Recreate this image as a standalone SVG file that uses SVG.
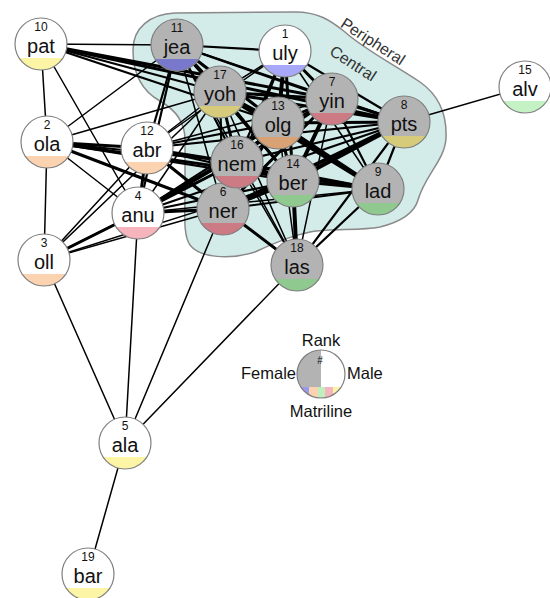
<svg xmlns="http://www.w3.org/2000/svg" xmlns:xlink="http://www.w3.org/1999/xlink" width="550" height="598" viewBox="0 0 550 598">
<style>
text{font-family:"Liberation Sans",Arial,sans-serif;fill:#111}
.num{font-size:12px;text-anchor:middle}
.name{font-size:20px;text-anchor:middle}
.lg{font-size:16.5px}
.hl{font-size:16px;fill:#333;text-anchor:middle}
.edges line{stroke:#000;stroke-linecap:round}
.a{stroke-width:1.5}.b{stroke-width:2.2}.c{stroke-width:3}.d{stroke-width:4}
.m .bg{fill:#fff}.f .bg{fill:#b3b3b3}
.ol{fill:none;stroke:#7f7f7f;stroke-width:1.2}
</style>
<defs>
<path id="band" d="M-21.9,14 A26,26 0 0 0 21.9,14 Z"/>
<clipPath id="lgclip"><circle cx="321" cy="374" r="24"/></clipPath>
</defs>
<rect width="550" height="598" fill="#fff"/>
<path id="hull" d="M133,50 C133,28 150,14 175,13 L295,12 C318,12 330,20 345,32 C365,50 395,65 420,82 C440,96 447,115 446,138 C445,160 425,175 418,200 C414,214 400,222 380,227 C360,231 330,228 310,232 C290,236 275,243 255,252 C230,260 200,258 190,245 C183,235 185,215 185,190 L185,140 C185,122 176,110 160,101 C140,90 133,72 133,50 Z" fill="#d3ecea" stroke="#8a8a8a" stroke-width="1.5"/>
<text class="hl" transform="translate(370,46) rotate(33)">Peripheral</text>
<text class="hl" transform="translate(350,68) rotate(33)">Central</text>
<g class="edges">
<line class="a" x1="41" y1="44" x2="177" y2="45"/>
<line class="a" x1="41" y1="44" x2="47" y2="142"/>
<line class="a" x1="41" y1="44" x2="138" y2="213"/>
<line class="b" x1="41" y1="44" x2="220" y2="92"/>
<line class="b" x1="41" y1="44" x2="278" y2="123"/>
<line class="c" x1="41" y1="44" x2="332" y2="99"/>
<line class="c" x1="41" y1="44" x2="404" y2="122"/>
<line class="a" x1="47" y1="142" x2="44" y2="260"/>
<line class="a" x1="47" y1="142" x2="177" y2="45"/>
<line class="a" x1="47" y1="142" x2="220" y2="92"/>
<line class="c" x1="47" y1="142" x2="147" y2="148"/>
<line class="a" x1="47" y1="142" x2="138" y2="213"/>
<line class="b" x1="47" y1="142" x2="237" y2="162"/>
<line class="c" x1="47" y1="142" x2="223" y2="209"/>
<line class="b" x1="47" y1="142" x2="293" y2="181"/>
<line class="c" x1="47" y1="142" x2="378" y2="189"/>
<line class="c" x1="44" y1="260" x2="138" y2="213"/>
<line class="a" x1="44" y1="260" x2="147" y2="148"/>
<line class="a" x1="44" y1="260" x2="237" y2="162"/>
<line class="a" x1="44" y1="260" x2="223" y2="209"/>
<line class="a" x1="44" y1="260" x2="220" y2="92"/>
<line class="a" x1="44" y1="260" x2="293" y2="181"/>
<line class="a" x1="44" y1="260" x2="125" y2="443"/>
<line class="a" x1="138" y1="213" x2="125" y2="443"/>
<line class="a" x1="223" y1="209" x2="125" y2="443"/>
<line class="a" x1="297" y1="265" x2="125" y2="443"/>
<line class="a" x1="125" y1="443" x2="88" y2="574"/>
<line class="a" x1="404" y1="122" x2="525" y2="87"/>
<line class="b" x1="147" y1="148" x2="177" y2="45"/>
<line class="c" x1="147" y1="148" x2="138" y2="213"/>
<line class="a" x1="147" y1="148" x2="220" y2="92"/>
<line class="a" x1="147" y1="148" x2="285" y2="51"/>
<line class="b" x1="147" y1="148" x2="278" y2="123"/>
<line class="a" x1="147" y1="148" x2="332" y2="99"/>
<line class="b" x1="147" y1="148" x2="404" y2="122"/>
<line class="b" x1="147" y1="148" x2="237" y2="162"/>
<line class="c" x1="147" y1="148" x2="223" y2="209"/>
<line class="b" x1="147" y1="148" x2="293" y2="181"/>
<line class="b" x1="147" y1="148" x2="378" y2="189"/>
<line class="b" x1="138" y1="213" x2="177" y2="45"/>
<line class="a" x1="138" y1="213" x2="220" y2="92"/>
<line class="b" x1="138" y1="213" x2="278" y2="123"/>
<line class="d" x1="138" y1="213" x2="332" y2="99"/>
<line class="b" x1="138" y1="213" x2="404" y2="122"/>
<line class="c" x1="138" y1="213" x2="237" y2="162"/>
<line class="c" x1="138" y1="213" x2="223" y2="209"/>
<line class="b" x1="138" y1="213" x2="293" y2="181"/>
<line class="a" x1="138" y1="213" x2="378" y2="189"/>
<line class="b" x1="177" y1="45" x2="285" y2="51"/>
<line class="d" x1="177" y1="45" x2="220" y2="92"/>
<line class="c" x1="177" y1="45" x2="278" y2="123"/>
<line class="b" x1="177" y1="45" x2="332" y2="99"/>
<line class="b" x1="177" y1="45" x2="404" y2="122"/>
<line class="b" x1="177" y1="45" x2="237" y2="162"/>
<line class="a" x1="177" y1="45" x2="223" y2="209"/>
<line class="a" x1="177" y1="45" x2="297" y2="265"/>
<line class="a" x1="177" y1="45" x2="293" y2="181"/>
<line class="a" x1="285" y1="51" x2="220" y2="92"/>
<line class="d" x1="285" y1="51" x2="278" y2="123"/>
<line class="c" x1="285" y1="51" x2="332" y2="99"/>
<line class="b" x1="285" y1="51" x2="404" y2="122"/>
<line class="b" x1="285" y1="51" x2="237" y2="162"/>
<line class="c" x1="285" y1="51" x2="293" y2="181"/>
<line class="a" x1="285" y1="51" x2="378" y2="189"/>
<line class="b" x1="285" y1="51" x2="223" y2="209"/>
<line class="d" x1="220" y1="92" x2="278" y2="123"/>
<line class="c" x1="220" y1="92" x2="332" y2="99"/>
<line class="c" x1="220" y1="92" x2="404" y2="122"/>
<line class="c" x1="220" y1="92" x2="237" y2="162"/>
<line class="b" x1="220" y1="92" x2="223" y2="209"/>
<line class="c" x1="220" y1="92" x2="293" y2="181"/>
<line class="d" x1="220" y1="92" x2="378" y2="189"/>
<line class="a" x1="220" y1="92" x2="297" y2="265"/>
<line class="c" x1="278" y1="123" x2="332" y2="99"/>
<line class="c" x1="278" y1="123" x2="404" y2="122"/>
<line class="c" x1="278" y1="123" x2="237" y2="162"/>
<line class="c" x1="278" y1="123" x2="223" y2="209"/>
<line class="c" x1="278" y1="123" x2="293" y2="181"/>
<line class="d" x1="278" y1="123" x2="378" y2="189"/>
<line class="a" x1="278" y1="123" x2="297" y2="265"/>
<line class="c" x1="332" y1="99" x2="404" y2="122"/>
<line class="b" x1="332" y1="99" x2="237" y2="162"/>
<line class="c" x1="332" y1="99" x2="223" y2="209"/>
<line class="d" x1="332" y1="99" x2="293" y2="181"/>
<line class="b" x1="332" y1="99" x2="378" y2="189"/>
<line class="a" x1="332" y1="99" x2="297" y2="265"/>
<line class="b" x1="404" y1="122" x2="237" y2="162"/>
<line class="d" x1="404" y1="122" x2="223" y2="209"/>
<line class="d" x1="404" y1="122" x2="293" y2="181"/>
<line class="b" x1="404" y1="122" x2="378" y2="189"/>
<line class="b" x1="404" y1="122" x2="297" y2="265"/>
<line class="c" x1="237" y1="162" x2="223" y2="209"/>
<line class="c" x1="237" y1="162" x2="293" y2="181"/>
<line class="b" x1="237" y1="162" x2="378" y2="189"/>
<line class="a" x1="237" y1="162" x2="297" y2="265"/>
<line class="d" x1="293" y1="181" x2="223" y2="209"/>
<line class="c" x1="293" y1="181" x2="378" y2="189"/>
<line class="d" x1="293" y1="181" x2="297" y2="265"/>
<line class="b" x1="378" y1="189" x2="297" y2="265"/>
<line class="b" x1="378" y1="189" x2="223" y2="209"/>
<line class="c" x1="223" y1="209" x2="297" y2="265"/>
</g>
<g id="n-uly" class="m" transform="translate(285,51)"><circle class="bg" r="26"/><use xlink:href="#band" fill="#a8a8f8"/><circle class="ol" r="26"/><text class="num" y="-13">1</text><text class="name" y="9">uly</text></g>
<g id="n-ola" class="m" transform="translate(47,142)"><circle class="bg" r="26"/><use xlink:href="#band" fill="#fbd3b0"/><circle class="ol" r="26"/><text class="num" y="-13">2</text><text class="name" y="9">ola</text></g>
<g id="n-oll" class="m" transform="translate(44,260)"><circle class="bg" r="26"/><use xlink:href="#band" fill="#fbd3b0"/><circle class="ol" r="26"/><text class="num" y="-13">3</text><text class="name" y="9">oll</text></g>
<g id="n-anu" class="m" transform="translate(138,213)"><circle class="bg" r="26"/><use xlink:href="#band" fill="#f6b4bd"/><circle class="ol" r="26"/><text class="num" y="-13">4</text><text class="name" y="9">anu</text></g>
<g id="n-ala" class="m" transform="translate(125,443)"><circle class="bg" r="26"/><use xlink:href="#band" fill="#fdf5a6"/><circle class="ol" r="26"/><text class="num" y="-13">5</text><text class="name" y="9">ala</text></g>
<g id="n-ner" class="f" transform="translate(223,209)"><circle class="bg" r="26"/><use xlink:href="#band" fill="#cc7a84"/><circle class="ol" r="26"/><text class="num" y="-13">6</text><text class="name" y="9">ner</text></g>
<g id="n-yin" class="f" transform="translate(332,99)"><circle class="bg" r="26"/><use xlink:href="#band" fill="#cc7a84"/><circle class="ol" r="26"/><text class="num" y="-13">7</text><text class="name" y="9">yin</text></g>
<g id="n-pts" class="f" transform="translate(404,122)"><circle class="bg" r="26"/><use xlink:href="#band" fill="#d6cb7a"/><circle class="ol" r="26"/><text class="num" y="-13">8</text><text class="name" y="9">pts</text></g>
<g id="n-lad" class="f" transform="translate(378,189)"><circle class="bg" r="26"/><use xlink:href="#band" fill="#8fc98f"/><circle class="ol" r="26"/><text class="num" y="-13">9</text><text class="name" y="9">lad</text></g>
<g id="n-pat" class="m" transform="translate(41,44)"><circle class="bg" r="26"/><use xlink:href="#band" fill="#fdf5a6"/><circle class="ol" r="26"/><text class="num" y="-13">10</text><text class="name" y="9">pat</text></g>
<g id="n-jea" class="f" transform="translate(177,45)"><circle class="bg" r="26"/><use xlink:href="#band" fill="#7878cc"/><circle class="ol" r="26"/><text class="num" y="-13">11</text><text class="name" y="9">jea</text></g>
<g id="n-abr" class="m" transform="translate(147,148)"><circle class="bg" r="26"/><use xlink:href="#band" fill="#fbd3b0"/><circle class="ol" r="26"/><text class="num" y="-13">12</text><text class="name" y="9">abr</text></g>
<g id="n-olg" class="f" transform="translate(278,123)"><circle class="bg" r="26"/><use xlink:href="#band" fill="#d8a274"/><circle class="ol" r="26"/><text class="num" y="-13">13</text><text class="name" y="9">olg</text></g>
<g id="n-ber" class="f" transform="translate(293,181)"><circle class="bg" r="26"/><use xlink:href="#band" fill="#8fc98f"/><circle class="ol" r="26"/><text class="num" y="-13">14</text><text class="name" y="9">ber</text></g>
<g id="n-alv" class="m" transform="translate(525,87)"><circle class="bg" r="26"/><use xlink:href="#band" fill="#c4f2c4"/><circle class="ol" r="26"/><text class="num" y="-13">15</text><text class="name" y="9">alv</text></g>
<g id="n-nem" class="f" transform="translate(237,162)"><circle class="bg" r="26"/><use xlink:href="#band" fill="#cc7a84"/><circle class="ol" r="26"/><text class="num" y="-13">16</text><text class="name" y="9">nem</text></g>
<g id="n-yoh" class="f" transform="translate(220,92)"><circle class="bg" r="26"/><use xlink:href="#band" fill="#d6cb7a"/><circle class="ol" r="26"/><text class="num" y="-13">17</text><text class="name" y="9">yoh</text></g>
<g id="n-las" class="f" transform="translate(297,265)"><circle class="bg" r="26"/><use xlink:href="#band" fill="#8fc98f"/><circle class="ol" r="26"/><text class="num" y="-13">18</text><text class="name" y="9">las</text></g>
<g id="n-bar" class="m" transform="translate(88,574)"><circle class="bg" r="26"/><use xlink:href="#band" fill="#fdf5a6"/><circle class="ol" r="26"/><text class="num" y="-13">19</text><text class="name" y="9">bar</text></g>
<g id="legend">
<circle cx="321" cy="374" r="24" fill="#fff"/>
<path d="M321,350 A24,24 0 0 0 321,398 Z" fill="#b3b3b3"/>
<g clip-path="url(#lgclip)">
<rect x="296" y="387" width="13" height="13" fill="#9a9af0"/>
<rect x="309" y="387" width="9" height="13" fill="#fbd3b0"/>
<rect x="318" y="387" width="7" height="13" fill="#bfeebf"/>
<rect x="325" y="387" width="8" height="13" fill="#f6b4bd"/>
<rect x="333" y="387" width="13" height="13" fill="#fbf3a6"/>
</g>
<circle cx="321" cy="374" r="24" fill="none" stroke="#7f7f7f" stroke-width="1.2"/>
<text x="320" y="364" style="font-size:10px;text-anchor:middle">#</text>
<text class="lg" x="321" y="346" text-anchor="middle">Rank</text>
<text class="lg" x="296" y="379" text-anchor="end">Female</text>
<text class="lg" x="347" y="379">Male</text>
<text class="lg" x="321" y="417" text-anchor="middle">Matriline</text>
</g>
</svg>
